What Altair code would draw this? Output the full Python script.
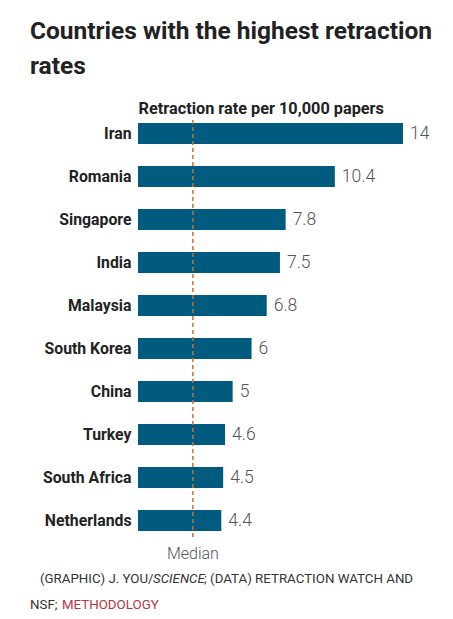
import altair as alt
import pandas as pd

countries = ["Iran", "Romania", "Singapore", "India", "Malaysia", "South Korea",
             "China", "Turkey", "South Africa", "Netherlands"]
rates = [14, 10.4, 7.8, 7.5, 6.8, 6, 5, 4.6, 4.5, 4.4]
labels = ["14", "10.4", "7.8", "7.5", "6.8", "6", "5", "4.6", "4.5", "4.4"]
median_value = 2.9

df = pd.DataFrame({"country": countries, "rate": rates, "label": labels})
med = pd.DataFrame({"median": [median_value], "text": ["Median"]})

W, H = 265, 430
FONT = "Roboto"

x = alt.X("rate:Q", scale=alt.Scale(domain=[0, 14], nice=False),
          axis=alt.Axis(orient="top", title="Retraction rate per 10,000 papers",
                        titleFont=FONT, titleFontSize=16.3, titleFontWeight="bold",
                        titleColor="#222", titleAnchor="start", titleAlign="left",
                        titleX=0, titleY=1, titleBaseline="alphabetic",
                        labels=False, ticks=False, domain=False, grid=False))
y = alt.Y("country:N", sort=countries,
          scale=alt.Scale(paddingInner=0.512, paddingOuter=0.256),
          axis=alt.Axis(title=None, ticks=False, domain=False, labelFont=FONT,
                        labelFontSize=15.8, labelFontWeight="bold", labelColor="#222",
                        labelPadding=7))

bars = alt.Chart(df).mark_bar(color="#005b7f").encode(x=x, y=y)
vals = alt.Chart(df).mark_text(align="left", dx=7, font=FONT, fontSize=17.5,
                               fontWeight=300, color="#555").encode(
    x="rate:Q", y=alt.Y("country:N", sort=countries), text="label:N")

rule = alt.Chart(med).mark_rule(color="#c8703a", strokeDash=[4, 3], strokeWidth=1.5).encode(
    x="median:Q", y=alt.value(8), y2=alt.value(426))
medtext = alt.Chart(med).mark_text(font=FONT, fontSize=16, fontWeight=300, color="#555",
                                   baseline="alphabetic").encode(
    x="median:Q", y=alt.value(447), text="text:N")

foot_style = dict(font=FONT, fontSize=13.3, color="#333", align="left", baseline="alphabetic")
foot = pd.DataFrame({"t1": ["(GRAPHIC) J. YOU/"], "t2": ["SCIENCE"],
                     "t3": ["; (DATA) RETRACTION WATCH AND"], "t4": ["NSF; "],
                     "t5": ["METHODOLOGY"]})
f1 = alt.Chart(foot).mark_text(**foot_style).encode(x=alt.value(-98), y=alt.value(471), text="t1:N")
f2 = alt.Chart(foot).mark_text(fontStyle="italic", **foot_style).encode(x=alt.value(15), y=alt.value(471), text="t2:N")
f3 = alt.Chart(foot).mark_text(**foot_style).encode(x=alt.value(66), y=alt.value(471), text="t3:N")
f4 = alt.Chart(foot).mark_text(**foot_style).encode(x=alt.value(-108), y=alt.value(497), text="t4:N")
f5 = alt.Chart(foot).mark_text(**{**foot_style, "color": "#b5373f"}).encode(x=alt.value(-76), y=alt.value(497), text="t5:N")

chart = alt.layer(bars, vals, rule, medtext, f1, f2, f3, f4, f5).properties(
    width=W, height=H,
    autosize=alt.AutoSizeParams(type="none"),
    padding={"left": 130, "top": 104, "right": 42, "bottom": 69},
    title=alt.TitleParams(["Countries with the highest retraction", "rates"],
                          anchor="start", frame="group", dx=-108, offset=2,
                          font=FONT, fontSize=24.5, fontWeight="bold", color="#222",
                          lineHeight=35, baseline="alphabetic"),
).configure_view(stroke=None)

chart.save("out.html", embed_options={"renderer": "svg", "actions": False})
